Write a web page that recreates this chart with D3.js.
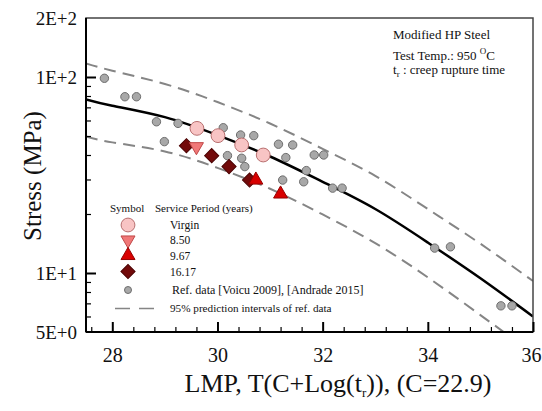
<!DOCTYPE html>
<html>
<head>
<meta charset="utf-8">
<script src="https://cdn.jsdelivr.net/npm/d3@7"></script>
<style>
  html, body { margin: 0; padding: 0; background: #fff; }
  svg { display: block; }
  svg text { font-family: "Liberation Serif", "Times New Roman", "DejaVu Serif", serif; }
</style>
</head>
<body>
<div id="chart"></div>
<script>
'use strict';

// ------------------------------------
// DATA
// ------------------------------------
// curves: master fit + 95% prediction band
const lmpGrid = [27.5, 28, 29, 30, 31, 32, 33, 34, 35, 36];
const fitStress = [76.9, 71.4, 62.4, 50.5, 39.3, 29.2, 21.2, 14.3, 9.4, 6.0];
const upperStress = [117.3, 107.7, 92.1, 74.5, 57.9, 43.0, 31.3, 21.2, 14.1, 9.1];
const lowerStress = [49.7, 46.4, 41.7, 34.4, 26.9, 19.9, 14.2, 9.5, 6.1, 3.9];

// reference data [Voicu 2009], [Andrade 2015]
const refLmp = [27.85, 28.24, 28.46, 28.84, 29.25, 28.99, 30.11, 30.44, 30.69, 31.16,
  31.43, 30.19, 30.46, 30.52, 31.30, 31.24, 31.84, 32.02, 31.69, 31.64,
  32.19, 32.37, 34.13, 34.43, 35.39, 35.60];
const refStress = [98.5, 79.3, 79.3, 59.1, 58.0, 46.8, 55.1, 50.6, 50.2, 45.4,
  45.0, 39.7, 38.5, 34.9, 38.8, 29.8, 40.0, 40.0, 33.3, 29.2,
  27.1, 27.1, 13.4, 13.6, 6.8, 6.8];

// service-exposed samples
const virginLmp = [29.61, 30.01, 30.46, 30.87];
const virginStress = [54.7, 50.2, 45.0, 40.0];
const y850Lmp = [29.60];
const y850Stress = [44.1];
const y967Lmp = [30.73, 31.20];
const y967Stress = [29.8, 25.3];
const y1617Lmp = [29.41, 29.89, 30.22, 30.61];
const y1617Stress = [44.6, 39.7, 34.9, 29.8];

const xMajorTicks = [28, 30, 32, 34, 36];
const yTickLabels = [[200, "2E+2"], [100, "1E+2"], [10, "1E+1"], [5, "5E+0"]];

// ------------------------------------
// SETUP
// ------------------------------------
const SERIF = "'Liberation Serif', 'Times New Roman', 'DejaVu Serif', serif";
const width = 542;
const height = 411;
const margin = { top: 18, right: 9, bottom: 79, left: 86 };
const innerWidth = width - margin.left - margin.right;
const innerHeight = height - margin.top - margin.bottom;

const svg = d3.select("#chart")
  .append("svg")
  .attr("width", width)
  .attr("height", height)
  .attr("font-family", SERIF);

const chart = svg.append("g")
  .attr("transform", `translate(${margin.left}, ${margin.top})`);

const x = d3.scaleLinear().domain([27.5, 36]).range([0, innerWidth]);
const y = d3.scaleLog().domain([5, 200]).range([innerHeight, 0]);

svg.append("defs").append("clipPath")
  .attr("id", "plot-clip")
  .append("rect")
  .attr("width", innerWidth)
  .attr("height", innerHeight);

// ------------------------------------
// CURVES
// ------------------------------------
const curve = d3.line()
  .x(d => x(d[0]))
  .y(d => y(d[1]))
  .curve(d3.curveNatural);

const gCurves = chart.append("g").attr("clip-path", "url(#plot-clip)");

[upperStress, lowerStress].forEach(arr => {
  gCurves.append("path")
    .attr("d", curve(lmpGrid.map((l, i) => [l, arr[i]])))
    .attr("fill", "none")
    .attr("stroke", "#858585")
    .attr("stroke-width", 2)
    .attr("stroke-dasharray", "12,7");
});

gCurves.append("path")
  .attr("d", curve(lmpGrid.map((l, i) => [l, fitStress[i]])))
  .attr("fill", "none")
  .attr("stroke", "#000")
  .attr("stroke-width", 2.5);

// ------------------------------------
// POINTS
// ------------------------------------
const gPoints = chart.append("g");

gPoints.selectAll(".ref")
  .data(refLmp.map((l, i) => [l, refStress[i]]))
  .join("circle")
  .attr("class", "ref")
  .attr("cx", d => x(d[0]))
  .attr("cy", d => y(d[1]))
  .attr("r", 4.2)
  .attr("fill", "#a8a8a8")
  .attr("stroke", "#6e6e6e")
  .attr("stroke-width", 1);

// symbol styles for the service periods
const styles = {
  virgin: { shape: d3.symbolCircle, size: 150, rot: 0, fill: "#f8c4c4", stroke: "#b87070" },
  y850: { shape: d3.symbolTriangle, size: 85, rot: 180, fill: "#f07878", stroke: "#c04848" },
  y967: { shape: d3.symbolTriangle, size: 85, rot: 0, fill: "#d80000", stroke: "#960000" },
  y1617: { shape: d3.symbolSquare, size: 100, rot: 45, fill: "#720a0a", stroke: "#4a0000" }
};

function drawSymbols(key, lmps, stresses) {
  const s = styles[key];
  gPoints.selectAll(`.${key}`)
    .data(lmps.map((l, i) => [l, stresses[i]]))
    .join("path")
    .attr("class", key)
    .attr("d", d3.symbol().type(s.shape).size(s.size))
    .attr("transform", d => `translate(${x(d[0])},${y(d[1])}) rotate(${s.rot})`)
    .attr("fill", s.fill)
    .attr("stroke", s.stroke)
    .attr("stroke-width", 1);
}

drawSymbols("y1617", y1617Lmp, y1617Stress);
drawSymbols("y967", y967Lmp, y967Stress);
drawSymbols("y850", y850Lmp, y850Stress);
drawSymbols("virgin", virginLmp, virginStress);

// ------------------------------------
// FRAME + AXES
// ------------------------------------
chart.append("rect")
  .attr("width", innerWidth)
  .attr("height", innerHeight)
  .attr("fill", "none")
  .attr("stroke", "#444")
  .attr("stroke-width", 1.5);

chart.append("line")
  .attr("x1", 0).attr("x2", 0).attr("y1", 0).attr("y2", innerHeight)
  .attr("stroke", "#000").attr("stroke-width", 2);
chart.append("line")
  .attr("x1", 0).attr("x2", innerWidth).attr("y1", innerHeight).attr("y2", innerHeight)
  .attr("stroke", "#000").attr("stroke-width", 2);

// x ticks: majors every 2, minors every 0.4 (pointing inward)
const xMinor = d3.range(27.6, 36.001, 0.4).filter(v => !xMajorTicks.some(m => Math.abs(m - v) < 1e-6));
const xAxisMinor = d3.axisBottom(x).tickValues(xMinor).tickSize(-5);
const xAxisMajor = d3.axisBottom(x).tickValues(xMajorTicks).tickSize(-10).tickPadding(16).tickFormat(d3.format("d"));

const gxMinor = chart.append("g").attr("transform", `translate(0,${innerHeight})`).call(xAxisMinor);
const gxMajor = chart.append("g").attr("transform", `translate(0,${innerHeight})`).call(xAxisMajor);

// y ticks: log minors, majors at decades
const yMinor = [6, 7, 8, 9, 20, 30, 40, 50, 60, 70, 80, 90];
const yAxisMinor = d3.axisLeft(y).tickValues(yMinor).tickSize(-5);
const yAxisMajor = d3.axisLeft(y).tickValues([10, 100]).tickSize(-10);

const gyMinor = chart.append("g").call(yAxisMinor);
const gyMajor = chart.append("g").call(yAxisMajor);

[gxMinor, gxMajor, gyMinor, gyMajor].forEach(g => {
  g.attr("font-family", SERIF);
  g.select(".domain").remove();
  g.selectAll(".tick line").attr("stroke", "#000").attr("stroke-width", 1.2);
});
// minor / y-major tick labels are not shown
[gxMinor, gyMinor, gyMajor].forEach(g => g.selectAll(".tick text").remove());
gxMajor.selectAll(".tick line").attr("stroke-width", 2);
gyMajor.selectAll(".tick line").attr("stroke-width", 2);

gxMajor.selectAll(".tick text")
  .attr("font-family", SERIF)
  .attr("font-size", 20)
  .attr("fill", "#111")
  .attr("dx", d => d === 36 ? -2 : 0);

chart.append("g").selectAll("text")
  .data(yTickLabels)
  .join("text")
  .attr("x", -9)
  .attr("y", d => y(d[0]))
  .attr("dy", "0.35em")
  .attr("text-anchor", "end")
  .attr("font-size", 19)
  .attr("fill", "#111")
  .text(d => d[1]);

// axis titles
const xTitle = svg.append("text")
  .attr("x", 338)
  .attr("y", 392)
  .attr("text-anchor", "middle")
  .attr("font-size", 26)
  .attr("fill", "#111");
xTitle.append("tspan").text("LMP, T(C+Log(t");
xTitle.append("tspan").attr("font-size", 13).attr("dy", 5).text("r");
xTitle.append("tspan").attr("dy", -5).text(")), (C=22.9)");

svg.append("text")
  .attr("transform", "translate(41,176) rotate(-90)")
  .attr("text-anchor", "middle")
  .attr("font-size", 25)
  .attr("fill", "#111")
  .text("Stress (MPa)");

// ------------------------------------
// ANNOTATION (top right)
// ------------------------------------
const note = svg.append("g").attr("font-size", 13).attr("fill", "#111");
note.append("text").attr("x", 393).attr("y", 39).text("Modified HP  Steel");
const t2 = note.append("text").attr("x", 393).attr("y", 60);
t2.append("tspan").text("Test Temp.: 950 ");
t2.append("tspan").attr("font-size", 9).attr("dy", -6).text("O");
t2.append("tspan").attr("dy", 6).text("C");
const t3 = note.append("text").attr("x", 393).attr("y", 74);
t3.append("tspan").text("t");
t3.append("tspan").attr("font-size", 9).attr("dy", 3).text("r");
t3.append("tspan").attr("dy", -3).text(" : creep rupture time");

// ------------------------------------
// LEGEND
// ------------------------------------
const legend = svg.append("g").attr("font-size", 11).attr("fill", "#111");
legend.append("text").attr("x", 110).attr("y", 212).text("Symbol");
legend.append("text").attr("x", 155).attr("y", 212).text("Service Period (years)");

const legendRows = [
  ["virgin", "Virgin", 225],
  ["y850", "8.50", 240],
  ["y967", "9.67", 255.5],
  ["y1617", "16.17", 271.5]
];

legendRows.forEach(([key, label, ly]) => {
  const s = styles[key];
  legend.append("path")
    .attr("d", d3.symbol().type(s.shape).size(s.size)())
    .attr("transform", `translate(128,${ly}) rotate(${s.rot})`)
    .attr("fill", s.fill)
    .attr("stroke", s.stroke);
  legend.append("text").attr("x", 170).attr("y", ly).attr("dy", "0.35em")
    .attr("font-size", 11.5).text(label);
});

legend.append("circle")
  .attr("cx", 128).attr("cy", 290).attr("r", 3.5)
  .attr("fill", "#a8a8a8").attr("stroke", "#6e6e6e");
legend.append("text").attr("x", 172).attr("y", 290).attr("dy", "0.35em")
  .attr("font-size", 12)
  .text("Ref. data [Voicu 2009], [Andrade 2015]");

legend.append("line")
  .attr("x1", 115).attr("x2", 156).attr("y1", 308.5).attr("y2", 308.5)
  .attr("stroke", "#858585").attr("stroke-width", 1.5)
  .attr("stroke-dasharray", "15,9");
legend.append("text").attr("x", 170).attr("y", 308.5).attr("dy", "0.35em")
  .attr("font-size", 11.2)
  .text("95% prediction intervals of ref. data");
</script>
</body>
</html>
